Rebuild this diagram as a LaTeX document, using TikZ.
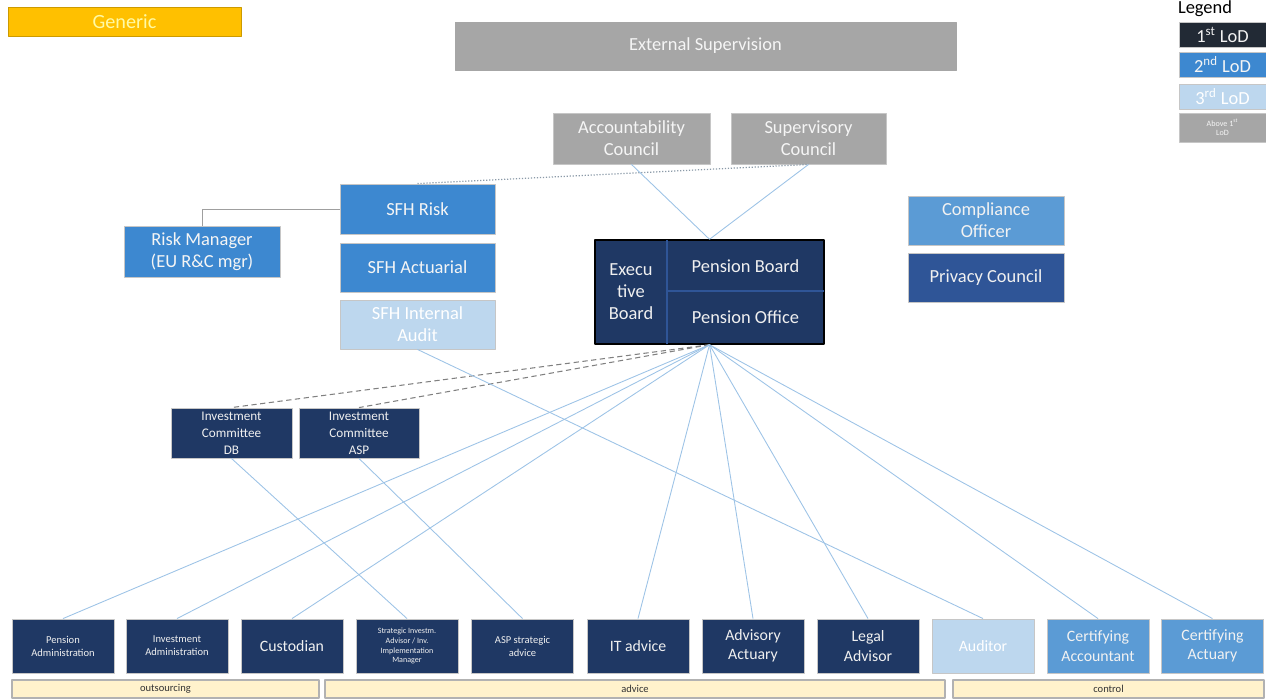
\documentclass[tikz,border=0pt]{standalone}
\usepackage{fontspec}
\setmainfont{Carlito}
\usetikzlibrary{positioning}

\definecolor{lodone}{HTML}{1F3864}
\definecolor{lodonelegend}{HTML}{222A35}
\definecolor{lodtwo}{HTML}{3D88D0}
\definecolor{lodtwolt}{HTML}{5B9BD5}
\definecolor{lodtwodk}{HTML}{2F5597}
\definecolor{lodthree}{HTML}{BDD7EE}
\definecolor{aboveone}{HTML}{A6A6A6}
\definecolor{generic}{HTML}{FFC000}
\definecolor{bandfill}{HTML}{FFF2CC}
\definecolor{linkblue}{HTML}{9DC3E6}

\begin{document}
\begin{tikzpicture}[x=0.02cm, y=-0.02cm, line join=round]

  \def\fsbig{\fontsize{10.5}{12.5}\selectfont}
  \def\fsmid{\fontsize{9}{11}\selectfont}
  \def\fsic{\fontsize{7.5}{9.6}\selectfont}
  \def\fssmall{\fontsize{6}{7.5}\selectfont}
  \def\fstiny{\fontsize{4.6}{5.6}\selectfont}

  % Colors and styles
  \tikzset{
    boxsize/.style 2 args={minimum width=#1*0.02cm, minimum height=#2*0.02cm},
    unit/.style={rectangle, draw=gray!45, line width=0.5pt, inner sep=1pt, align=center},
    lod-one/.style={unit, fill=lodone, text=white!88!gray},
    lod-two/.style={unit, fill=lodtwo, text=white!92!gray},
    lod-two-lt/.style={unit, fill=lodtwolt, text=white!90!gray},
    lod-two-dk/.style={unit, fill=lodtwodk, text=white!88!gray},
    lod-three/.style={unit, fill=lodthree, text=white},
    above-one/.style={unit, fill=aboveone, text=white!92!gray},
    band/.style={rectangle, draw=gray!60, fill=bandfill, line width=0.6pt,
      text=black!80, font=\fssmall, inner sep=0pt},
    link/.style={draw=linkblue, line width=0.5pt},
    link-grey/.style={draw=gray!75, line width=0.5pt},
  }

  \useasboundingbox (0,0) rectangle (1266,698);

  % Title and supervision
  \node[unit, fill=generic, draw=generic!80!black, text=yellow!35!white,
    boxsize={233}{29}, font=\fontsize{11.5}{13}\selectfont] (generic) at (124.5,21.5) {Generic};
  \node[above-one, draw=gray!70, boxsize={501}{48}, font=\fsbig] (extsup) at (705.5,46) {External Supervision};
  \node[above-one, boxsize={157}{51}, font=\fsbig] (acc) at (631.5,138.5) {Accountability\\Council};
  \node[above-one, boxsize={155}{51}, font=\fsbig] (sup) at (808.5,138.5) {Supervisory\\Council};

  % Second and third line on the left
  \node[lod-two, boxsize={155}{50}, font=\fsbig] (sfhrisk) at (417.5,209) {SFH Risk};
  \node[lod-two, boxsize={156}{51}, font=\fsbig] (riskmgr) at (202,251.5) {Risk Manager\\(EU R\&C mgr)};
  \node[lod-two, boxsize={155}{49}, font=\fsbig] (sfhact) at (417.5,267.5) {SFH Actuarial};
  \node[lod-three, boxsize={155}{49}, font=\fsbig] (audit) at (417.5,324.5) {SFH Internal\\Audit};

  % Right column
  \node[lod-two-lt, boxsize={156}{49}, font=\fsbig] (compl) at (986,220.5) {Compliance\\Officer};
  \node[lod-two-dk, boxsize={156}{49}, font=\fsbig] (privacy) at (986,277.5) {Privacy Council};

  % Executive board block
  \node[unit, fill=lodone, draw=black, line width=0.8pt, boxsize={229}{104}] (exec) at (709.5,292) {};
  \draw[lodtwodk, line width=0.6pt] (667,240) -- (667,344);
  \draw[lodtwodk, line width=0.6pt] (667,291) -- (824,291);
  \node[text=white!88!gray, font=\fsbig, align=center] (execboard) at (631,292) {Execu\\tive\\Board};
  \node[text=white!88!gray, font=\fsbig] (pensboard) at (745.5,266) {Pension Board};
  \node[text=white!88!gray, font=\fsbig] (pensoffice) at (745.5,317) {Pension Office};

  % Investment committees
  \node[lod-one, boxsize={121}{50}, font=\fsic] (icdb) at (231.5,433) {Investment\\Committee\\DB};
  \node[lod-one, boxsize={120}{50}, font=\fsic] (icasp) at (359,433) {Investment\\Committee\\ASP};

  % Bottom row
  \foreach \nm/\cx/\sty/\fs/\txt in {
      pensadm/63/lod-one/\fssmall/{Pension\\Administration},
      invadm/177/lod-one/\fssmall/{Investment\\Administration},
      custodian/292/lod-one/\fsmid/{Custodian},
      strategic/407/lod-one/\fstiny/{Strategic Investm.\\Advisor / Inv.\\Implementation\\Manager},
      aspadv/522.5/lod-one/\fssmall/{ASP strategic\\advice},
      itadv/638/lod-one/\fsmid/{IT advice},
      advact/753/lod-one/\fsmid/{Advisory\\Actuary},
      legal/868/lod-one/\fsmid/{Legal\\Advisor},
      auditor/983/lod-three/\fsmid/{Auditor},
      certacc/1098/lod-two-lt/\fsmid/{Certifying\\Accountant},
      certact/1212.5/lod-two-lt/\fsmid/{Certifying\\Actuary}} {
    \node[\sty, boxsize={102}{54}, font=\fs] (\nm) at (\cx,646) {\txt};
  }

  % Bands
  \node[band, boxsize={307}{18}] (outsrc) at (165.5,689) {outsourcing};
  \node[band, boxsize={620}{18}] (advice) at (635,689) {advice};
  \node[band, boxsize={311}{18}] (control) at (1108.5,689) {control};

  % Legend
  \node[font=\fsbig, text=black] (legend) at (1205,9) {Legend};
  \node[unit, fill=lodonelegend, text=white!90!gray, boxsize={87}{25}, font=\fsbig] (legone) at (1222.5,34.5) {1\textsuperscript{st} LoD};
  \node[lod-two, boxsize={87}{25}, font=\fsbig] (legtwo) at (1222.5,64.5) {2\textsuperscript{nd} LoD};
  \node[lod-three, boxsize={87}{25}, font=\fsbig] (legthree) at (1222.5,96.5) {3\textsuperscript{rd} LoD};
  \node[above-one, boxsize={87}{29}, font=\fstiny] (legabove) at (1222.5,127.5) {Above 1\textsuperscript{st}\\LoD};

  % Connectors
  \draw[link-grey] (riskmgr.north) |- (sfhrisk.west);
  \draw[link-grey, draw=gray!60!linkblue, line width=0.7pt, densely dotted] (sfhrisk.north) -- (sup.south);
  \draw[link] (acc.south) -- (exec.north);
  \draw[link] (sup.south) -- (exec.north);
  \draw[link-grey, draw=gray, line width=0.6pt, densely dashed] (exec.south) -- (icdb.north);
  \draw[link-grey, draw=gray, line width=0.6pt, densely dashed] (exec.south) -- (icasp.north);
  \foreach \nm in {pensadm, invadm, custodian, itadv, advact, legal, certacc, certact}
    \draw[link] (exec.south) -- (\nm.north);
  \draw[link] (icdb.south) -- (strategic.north);
  \draw[link] (icasp.south) -- (aspadv.north);
  \draw[link] (audit.south) -- (auditor.north);

\end{tikzpicture}
\end{document}
